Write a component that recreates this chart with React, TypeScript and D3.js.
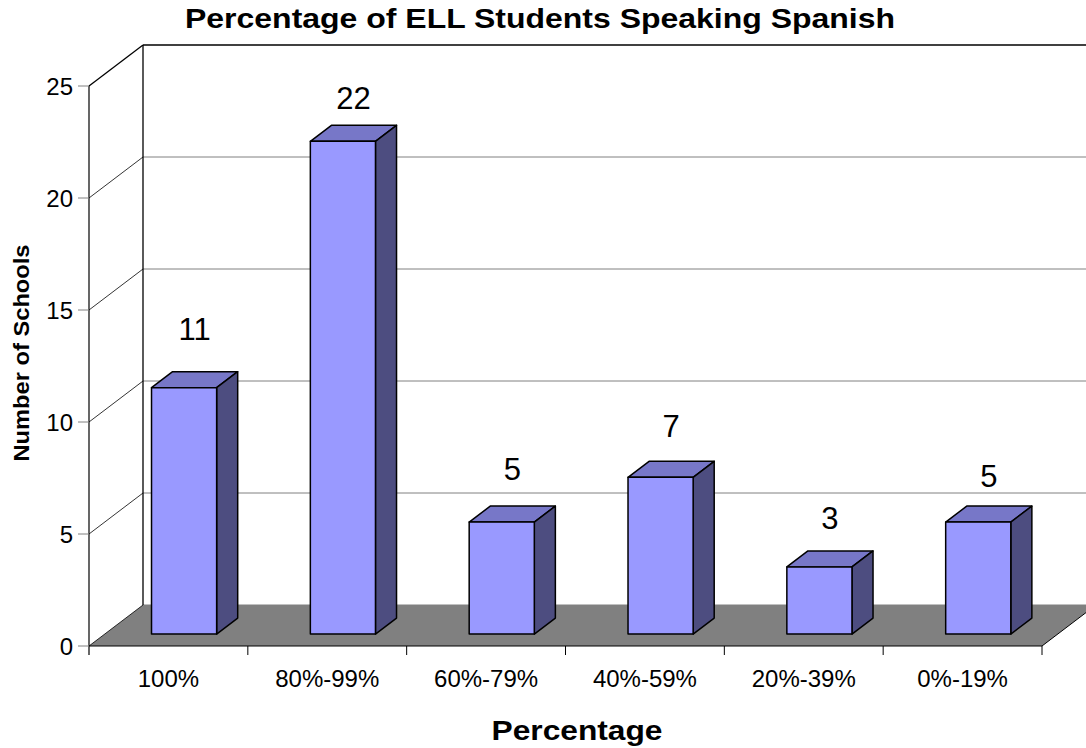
import React from "react";
import * as d3 from "d3";

const categories = ["100%", "80%-99%", "60%-79%", "40%-59%", "20%-39%", "0%-19%"];
const schoolCounts = [11, 22, 5, 7, 3, 5];
const yTicks = [0, 5, 10, 15, 20, 25];

const title = "Percentage of ELL Students Speaking Spanish";
const xTitle = "Percentage";
const yTitle = "Number of Schools";

const W = 1086;
const H = 748;
const FONT = "Arial, 'Liberation Sans', sans-serif";

export default function App() {
  const x0 = 89, x1 = 1042;
  const y = d3.scaleLinear().domain([0, 25]).range([646, 86]);
  const x = d3.scaleBand<string>().domain(categories).range([x0, x1]).paddingInner(0).paddingOuter(0);
  const DX = 54, DY = 41;
  const f1 = 0.29, f2 = 0.68;
  const barW = x.bandwidth() * 0.41;

  const pt = (px: number, py: number) => `${px},${py}`;

  const backRight = x1 + DX;

  return (
    <svg width={W} height={H} style={{ position: "absolute", left: 0, top: 0, background: "#fff" }}>
      <rect x={0} y={0} width={W} height={H} fill="#fff" />
      {/* floor */}
      <polygon
        points={[pt(x0, y(0)), pt(x1, y(0)), pt(backRight, y(0) - DY), pt(x0 + DX, y(0) - DY)].join(" ")}
        fill="#808080"
        stroke="none"
      />
      {/* back wall gridlines */}
      {yTicks.map((t) => (
        <g key={"g" + t}>
          <line x1={x0 + DX} x2={W + 20} y1={y(t) - DY} y2={y(t) - DY}
            stroke={t === 25 ? "#000" : "#808080"} strokeWidth={t === 25 ? 1.3 : 1} />
          <line x1={x0} y1={y(t)} x2={x0 + DX} y2={y(t) - DY}
            stroke="#000" strokeWidth={t === 25 ? 1.3 : 0.8} />
        </g>
      ))}
      {/* back wall left edge */}
      <line x1={x0 + DX} x2={x0 + DX} y1={y(25) - DY} y2={y(0) - DY} stroke="#000" strokeWidth={1.3} />
      {/* floor edges */}
      <line x1={x0} y1={y(0)} x2={x1} y2={y(0)} stroke="#000" strokeWidth={1} />
      <line x1={x1} y1={y(0)} x2={backRight} y2={y(0) - DY} stroke="#000" strokeWidth={1} />
      {/* front y axis */}
      <line x1={x0} x2={x0} y1={y(25)} y2={y(0) + 9} stroke="#000" strokeWidth={1.2} />
      {yTicks.map((t) => (
        <g key={"t" + t}>
          <line x1={x0 - 11} x2={x0} y1={y(t)} y2={y(t)} stroke="#808080" strokeWidth={1} />
          <text x={x0 - 16} y={y(t) + 8.5} textAnchor="end" fontFamily={FONT} fontSize={24} fill="#000">
            {t}
          </text>
        </g>
      ))}
      {/* category ticks */}
      {categories.map((c) => (
        <line key={"ct" + c} x1={x(c)! + x.bandwidth()} x2={x(c)! + x.bandwidth()} y1={y(0)} y2={y(0) + 9}
          stroke="#000" strokeWidth={1} />
      ))}
      {/* bars */}
      {categories.map((c, i) => {
        const v = schoolCounts[i];
        const cx = x(c)! + x.bandwidth() / 2 + DX * f1;
        const l = cx - barW / 2, r = cx + barW / 2;
        const bot = y(0) - DY * f1, top = y(v) - DY * f1;
        const ddx = DX * (f2 - f1), ddy = DY * (f2 - f1);
        return (
          <g key={"b" + c} stroke="#000" strokeWidth={1.5} strokeLinejoin="round">
            <polygon points={[pt(l, top), pt(l + ddx, top - ddy), pt(r + ddx, top - ddy), pt(r, top)].join(" ")} fill="#7777C8" />
            <polygon points={[pt(r, top), pt(r + ddx, top - ddy), pt(r + ddx, bot - ddy), pt(r, bot)].join(" ")} fill="#4D4D80" />
            <rect x={l} y={top} width={barW} height={bot - top} fill="#9999FF" />
          </g>
        );
      })}
      {/* value labels */}
      {categories.map((c, i) => {
        const v = schoolCounts[i];
        const cx = x(c)! + x.bandwidth() / 2 + DX * (f1 + f2) / 2;
        const backTop = y(v) - DY * f2;
        const off = 42.5 - 2.5 * i;
        const cy = Math.max(backTop - off, 98);
        return (
          <text key={"v" + c} x={cx} y={cy + 11} textAnchor="middle" fontFamily={FONT} fontSize={31} fill="#000">
            {v}
          </text>
        );
      })}
      {/* category labels */}
      {categories.map((c) => (
        <text key={"cl" + c} x={x(c)! + x.bandwidth() / 2} y={687} textAnchor="middle" fontFamily={FONT} fontSize={24} fill="#000">
          {c}
        </text>
      ))}
      {/* titles */}
      <text x={540} y={28} textAnchor="middle" fontFamily={FONT} fontWeight="bold" fontSize={28}
        textLength={710} lengthAdjust="spacingAndGlyphs" fill="#000">{title}</text>
      <text x={577} y={740} textAnchor="middle" fontFamily={FONT} fontWeight="bold" fontSize={28}
        textLength={171} lengthAdjust="spacingAndGlyphs" fill="#000">{xTitle}</text>
      <text transform={`translate(29,353) rotate(-90)`} textAnchor="middle" fontFamily={FONT} fontWeight="bold" fontSize={22}
        textLength={217} lengthAdjust="spacingAndGlyphs" fill="#000">{yTitle}</text>
    </svg>
  );
}
